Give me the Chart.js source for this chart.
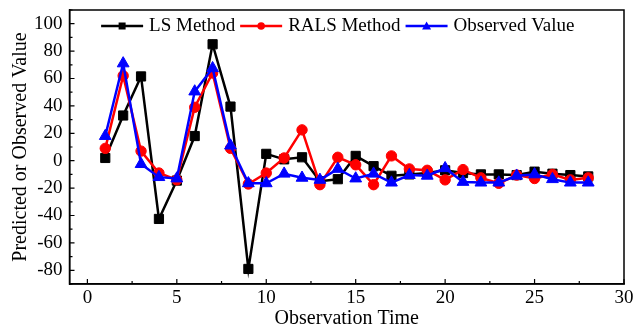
<!DOCTYPE html>
<html><head><meta charset="utf-8">
<script src="https://cdn.jsdelivr.net/npm/chart.js@4"></script>
<style>html,body{margin:0;padding:0;background:#fff}#wrap{width:633px;height:331px}</style>
</head><body><div id="wrap"><canvas id="c" width="633" height="331"></canvas></div>
<script>
const obsTimes = [1,2,3,4,5,6,7,8,9,10,11,12,13,14,15,16,17,18,19,20,21,22,23,24,25,26,27,28];
const lsMethod = [2,33,61.5,-42.5,-14.5,18,85,39.5,-79,5,1,2.5,-15,-13.5,3.5,-4,-11,-10,-9,-7,-9,-10,-10,-10.5,-8,-9.5,-10.5,-11.5];
const ralsMethod = [9,62,7,-9,-14,39,64,9,-17,-9,2,22.5,-17.5,2.5,-3,-17.5,3.5,-6,-7,-14,-6.5,-12.5,-16.5,-10.5,-13,-10,-14,-12.5];
const observed = [18,71,-2.5,-12,-13,50.5,67.5,11,-16.5,-16.5,-9.5,-12.5,-14,-6,-13,-9.5,-16,-10.5,-11,-5.5,-15.5,-16,-16,-11,-10,-13.5,-16,-16];
const seriesNames = ['LS Method','RALS Method','Observed Value'];
const xTicks = [0,5,10,15,20,25,30];
const yTicks = [-80,-60,-40,-20,0,20,40,60,80,100];

const FONT = "'Liberation Serif','Times New Roman',serif";
const colors = ['#000000','#ff0000','#0000ff'];
const styles = ['rect','circle','triangle'];

function pts(arr){ return obsTimes.map((x,i)=>({x:x,y:arr[i]})); }

function drawMarker(g, i, cx, cy){
  g.beginPath();
  if(i===0){ g.rect(cx-3.5,cy-3.5,7,7); }
  else if(i===1){ g.arc(cx,cy,3.8,0,Math.PI*2); }
  else { g.moveTo(cx,cy-4.5); g.lineTo(cx+4.5,cy+3.5); g.lineTo(cx-4.5,cy+3.5); g.closePath(); }
  g.fill();
}

const innerLegend = {
  id:'innerLegend',
  afterDraw(chart){
    const ctx = chart.ctx;
    const a = chart.chartArea;
    ctx.save();
    ctx.font = '19px ' + FONT;
    ctx.textBaseline = 'middle';
    const lineLen = 42, gapText = 6, gapItem = 5;
    const datasets = chart.data.datasets;
    let total = 0;
    datasets.forEach((d,i)=>{ total += lineLen + gapText + ctx.measureText(d.label).width + (i<datasets.length-1?gapItem:0); });
    let x = (a.left + a.right)/2 - total/2 - 9;
    const y = a.top + 16;
    datasets.forEach((d,i)=>{
      ctx.strokeStyle = colors[i]; ctx.fillStyle = colors[i]; ctx.lineWidth = 2.5;
      ctx.beginPath(); ctx.moveTo(x,y); ctx.lineTo(x+lineLen,y); ctx.stroke();
      drawMarker(ctx, i, x+lineLen/2, y);
      x += lineLen + gapText;
      ctx.fillStyle = '#000';
      ctx.fillText(d.label, x, y);
      x += ctx.measureText(d.label).width + gapItem;
    });
    ctx.restore();
  }
};

const frameTicks = {
  id:'frameTicks',
  afterDraw(chart){
    const {ctx, chartArea:a, scales:{x,y}} = chart;
    ctx.save();
    ctx.strokeStyle = '#000'; ctx.lineWidth = 1.5;
    ctx.strokeRect(a.left, a.top, a.right-a.left, a.bottom-a.top);
    ctx.lineWidth = 1.2;
    ctx.beginPath();
    for(let v=0; v<=30; v+=2.5){
      const px = x.getPixelForValue(v);
      const len = (v%5===0)?5:3;
      ctx.moveTo(px, a.bottom); ctx.lineTo(px, a.bottom-len);
    }
    for(let v=-90; v<=110; v+=10){
      const py = y.getPixelForValue(v);
      const len = (v%20===0)?5:3;
      ctx.moveTo(a.left, py); ctx.lineTo(a.left+len, py);
    }
    ctx.stroke();
    ctx.restore();
  }
};

const mk = (i, data, radius, order) => ({
  label: seriesNames[i], data: pts(data),
  borderColor: colors[i], backgroundColor: colors[i],
  pointStyle: styles[i], pointRadius: radius, pointHoverRadius: radius,
  pointBorderWidth: 1, borderWidth: 2.5, tension: 0, order: order, showLine: true
});

new Chart(document.getElementById('c'), {
  type: 'scatter',
  data: { datasets: [
    mk(0, lsMethod, 6.5, 3),
    mk(1, ralsMethod, 5.2, 2),
    mk(2, observed, 6.8, 1)
  ]},
  options: {
    responsive: false, animation: false, devicePixelRatio: 1,
    layout: { padding: { left: 5, right: 9, top: 10, bottom: 0 } },
    plugins: { tooltip: { enabled: false }, legend: { display: false } },
    scales: {
      x: {
        type: 'linear', min: -1, max: 30,
        afterBuildTicks(s){ s.ticks = xTicks.map(v=>({value:v})); },
        afterFit(s){ s.height = 47; s.paddingLeft = 0; s.paddingRight = 0; },
        grid: { display: false, drawTicks: false },
        border: { display: true, color: '#000', width: 1.5 },
        ticks: { color: '#000', font: { family: FONT, size: 19 }, padding: 3, maxRotation: 0 },
        title: { display: true, text: 'Observation Time', color: '#000', font: { family: FONT, size: 20 }, padding: { top: 0, bottom: 0 } }
      },
      y: {
        type: 'linear', min: -90, max: 110,
        afterBuildTicks(s){ s.ticks = yTicks.map(v=>({value:v})); },
        afterFit(s){ s.width = 64.5; s.paddingTop = 0; s.paddingBottom = 0; },
        grid: { display: false, drawTicks: false },
        border: { display: true, color: '#000', width: 1.5 },
        ticks: { color: '#000', font: { family: FONT, size: 19 }, padding: 7 },
        title: { display: true, text: 'Predicted or Observed Value', color: '#000', font: { family: FONT, size: 20 }, padding: { top: 4, bottom: 4 } }
      }
    }
  },
  plugins: [frameTicks, innerLegend]
});
</script>
</body></html>
